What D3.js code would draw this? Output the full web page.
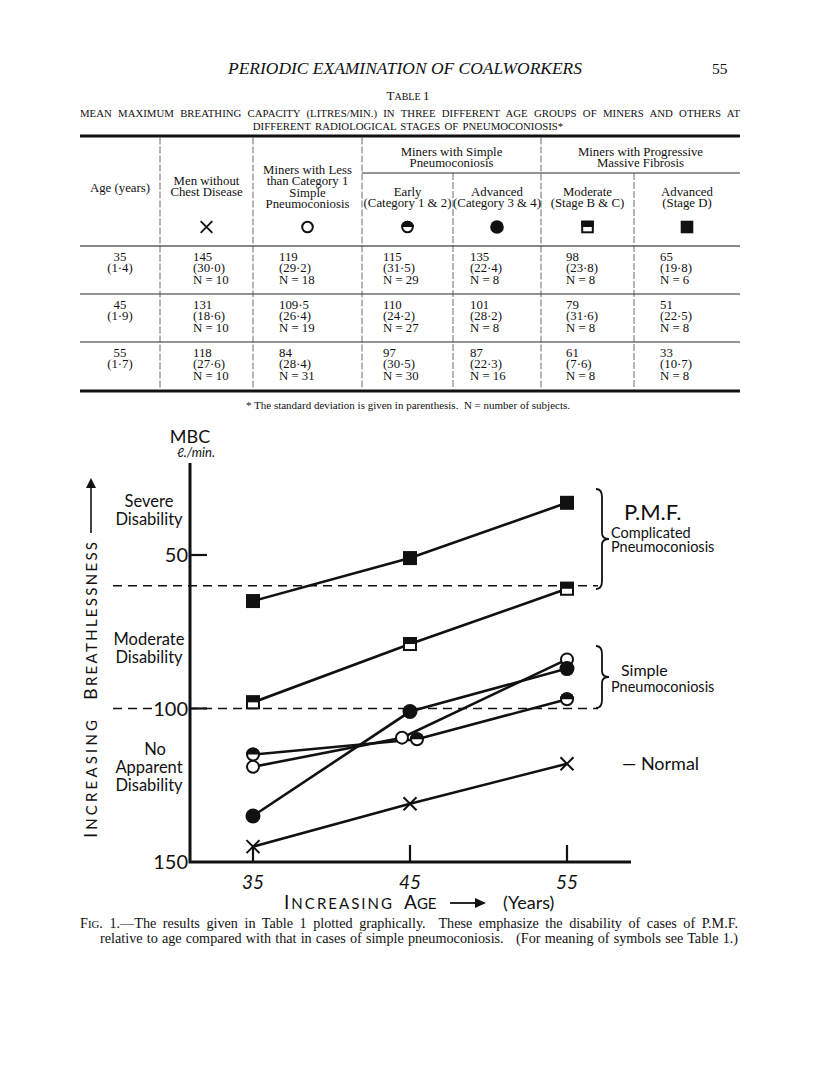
<!DOCTYPE html>
<html><head><meta charset="utf-8">
<script src="https://cdn.jsdelivr.net/npm/d3@7"></script>
<style>
body{margin:0;background:#fff;}
svg{display:block;}
.serif{font-family:"Liberation Serif","Times New Roman",serif;fill:#111;white-space:pre;}
.hand{font-family:"Lato","Open Sans",sans-serif;fill:#111;}
</style></head>
<body><svg id="c" width="816" height="1075"></svg>
<script>
// ---------- DATA ----------
const ages = [35, 45, 55];
const ageSD = [1.4, 1.9, 1.7];
const normal      = [145, 131, 118];
const lessCat1    = [119, 109.5, 84];
const earlySimple = [115, 110, 97];
const advSimple   = [135, 101, 87];
const moderatePMF = [98, 79, 61];
const advancedPMF = [65, 51, 33];
const normalSD      = [30.0, 18.6, 27.6];
const lessCat1SD    = [29.2, 26.4, 28.4];
const earlySimpleSD = [31.5, 24.2, 30.5];
const advSimpleSD   = [22.4, 28.2, 22.3];
const moderatePMFSD = [23.8, 31.6, 7.6];
const advancedPMFSD = [19.8, 22.5, 10.7];
const normalN      = [10, 10, 10];
const lessCat1N    = [18, 19, 31];
const earlySimpleN = [29, 27, 30];
const advSimpleN   = [8, 8, 16];
const moderatePMFN = [8, 8, 8];
const advancedPMFN = [6, 8, 8];
const yTicks = [50, 100, 150];
const boundaries = [60, 100];

const seriesMeans = [normal, lessCat1, earlySimple, advSimple, moderatePMF, advancedPMF];
const seriesSD = [normalSD, lessCat1SD, earlySimpleSD, advSimpleSD, moderatePMFSD, advancedPMFSD];
const seriesN = [normalN, lessCat1N, earlySimpleN, advSimpleN, moderatePMFN, advancedPMFN];
const markerTypes = ["x", "open", "half", "filled", "halfsq", "sq"];

// ---------- STYLE / LAYOUT ----------
const dodge = [[0,0,0],[0,-8,0],[0,7,0],[0,0,0],[0,0,0],[0,0,0]];
const svg = d3.select("#c");
svg.append("rect").attr("width",816).attr("height",1075).attr("fill","#fff");
const fmt = v => (Number.isInteger(v) ? String(v) : v.toFixed(1)).replace(".", "\u00B7");
const fmtSD = v => v.toFixed(1).replace(".", "\u00B7");
function justify(sel, target) {
  const n = sel.node();
  const w = n.getComputedTextLength();
  const spaces = (n.textContent.match(/ /g) || []).length;
  if (spaces) sel.attr("word-spacing", (target - w) / spaces);
}

function marker(g, type, cx, cy, s) {
  const r = 7 * s;
  if (type === "x") {
    const h = 6.5 * s;
    g.append("path").attr("d", `M${cx-h},${cy-h}L${cx+h},${cy+h}M${cx-h},${cy+h}L${cx+h},${cy-h}`)
      .attr("stroke","#111").attr("stroke-width",2*s).attr("fill","none");
  } else if (type === "open") {
    g.append("circle").attr("cx",cx).attr("cy",cy).attr("r",r-1).attr("fill","#fff").attr("stroke","#111").attr("stroke-width",2);
  } else if (type === "half") {
    g.append("circle").attr("cx",cx).attr("cy",cy).attr("r",r-1).attr("fill","#fff").attr("stroke","#111").attr("stroke-width",2);
    g.append("path").attr("d",`M${cx-r},${cy}A${r},${r} 0 0 1 ${cx+r},${cy}Z`).attr("fill","#111");
  } else if (type === "filled") {
    g.append("circle").attr("cx",cx).attr("cy",cy).attr("r",r+0.5).attr("fill","#111");
  } else if (type === "halfsq") {
    g.append("rect").attr("x",cx-r+1).attr("y",cy-r+1).attr("width",2*r-2).attr("height",2*r-2)
      .attr("fill","#fff").attr("stroke","#111").attr("stroke-width",2);
    g.append("rect").attr("x",cx-r).attr("y",cy-r).attr("width",2*r).attr("height",r).attr("fill","#111");
  } else if (type === "sq") {
    g.append("rect").attr("x",cx-r).attr("y",cy-r).attr("width",2*r).attr("height",2*r).attr("fill","#111");
  }
}

// ---------- PAGE HEADER ----------
svg.append("text").attr("class","serif").attr("x",405).attr("y",74).attr("text-anchor","middle")
  .attr("font-size",16.5).attr("font-style","italic").attr("textLength",354).attr("lengthAdjust","spacingAndGlyphs")
  .text("PERIODIC EXAMINATION OF COALWORKERS");
svg.append("text").attr("class","serif").attr("x",712).attr("y",74).attr("font-size",15.5).text("55");
const tt = svg.append("text").attr("class","serif").attr("x",408).attr("y",100).attr("text-anchor","middle");
tt.append("tspan").attr("font-size",13).text("T");
tt.append("tspan").attr("font-size",10).text("ABLE ");
tt.append("tspan").attr("font-size",13).text("1");
const sub1 = svg.append("text").attr("class","serif").attr("x",80).attr("y",117).attr("font-size",10.8)
  .text("MEAN MAXIMUM BREATHING CAPACITY (LITRES/MIN.) IN THREE DIFFERENT AGE GROUPS OF MINERS AND OTHERS AT");
justify(sub1, 660);
svg.append("text").attr("class","serif").attr("x",408).attr("y",130).attr("font-size",10.8).attr("text-anchor","middle")
  .attr("word-spacing",1.5).text("DIFFERENT RADIOLOGICAL STAGES OF PNEUMOCONIOSIS*");

// ---------- TABLE ----------
const colX = [80, 160, 253, 362, 453, 541, 634, 740];
const valX = [193, 279, 383, 470, 566, 660];
const T = svg.append("g");
const hline = (y, x1, x2, w) => T.append("line").attr("x1",x1).attr("x2",x2).attr("y1",y).attr("y2",y).attr("stroke","#111").attr("stroke-width",w);
hline(136, 80, 740, 3);
hline(173, 362, 740, 0.9);
hline(246, 80, 740, 1);
hline(294, 80, 740, 0.9);
hline(342, 80, 740, 0.9);
hline(391, 80, 740, 3);
[1,2,3,4,5,6].forEach(i => {
  const y0 = (i === 4 || i === 6) ? 173 : 137.5;
  T.append("line").attr("x1",colX[i]).attr("x2",colX[i]).attr("y1",y0).attr("y2",389.5)
    .attr("stroke","#444").attr("stroke-width",0.8).attr("stroke-dasharray","7,2");
});
function lines(x, ys, arr, anchor) {
  arr.forEach((t, i) => T.append("text").attr("class","serif").attr("x",x).attr("y",ys + i*11.4)
    .attr("font-size",12.8).attr("text-anchor",anchor || "middle").text(t));
}
const cc = i => (colX[i] + colX[i+1]) / 2;
lines((colX[3]+colX[5])/2, 156, ["Miners with Simple","Pneumoconiosis"]);
lines((colX[5]+colX[7])/2, 156, ["Miners with Progressive","Massive Fibrosis"]);
lines(cc(0), 192, ["Age (years)"]);
lines(cc(1), 185, ["Men without","Chest Disease"]);
lines(cc(2), 174, ["Miners with Less","than Category 1","Simple","Pneumoconiosis"]);
lines(cc(3), 196, ["Early","(Category 1 & 2)"]);
lines(cc(4), 196, ["Advanced","(Category 3 & 4)"]);
lines(cc(5), 196, ["Moderate","(Stage B & C)"]);
lines(cc(6), 196, ["Advanced","(Stage D)"]);
markerTypes.forEach((m, k) => marker(T, m, cc(k+1), 227, 0.9));
ages.forEach((a, r) => {
  const y = 261 + r*48;
  lines(cc(0), y, [String(a), "(" + fmtSD(ageSD[r]) + ")"]);
  seriesMeans.forEach((s, k) => {
    lines(valX[k], y, [fmt(s[r]), "(" + fmtSD(seriesSD[k][r]) + ")", "N = " + seriesN[k][r]], "start");
  });
});
svg.append("text").attr("class","serif").attr("x",408).attr("y",409).attr("text-anchor","middle").attr("font-size",11)
  .text("* The standard deviation is given in parenthesis.  N = number of subjects.");

// ---------- CHART ----------
const x = d3.scaleLinear().domain([35, 55]).range([253, 567]);
const y = d3.scaleLinear().domain([50, 150]).range([555, 862]);
const C = svg.append("g");
const axX0 = 190, axYtop = 463, axXend = 631;
C.selectAll(".bd").data(boundaries).enter().append("line")
  .attr("x1",113).attr("x2",598).attr("y1",d=>y(d)).attr("y2",d=>y(d))
  .attr("stroke","#111").attr("stroke-width",1.6).attr("stroke-dasharray","9,6");
C.append("rect").attr("x",158).attr("y",y(100)-9).attr("width",31).attr("height",18).attr("fill","#fff");
C.append("path").attr("d",`M${axX0},${axYtop}V${y(150)}H${axXend}`).attr("fill","none").attr("stroke","#111").attr("stroke-width",3);
C.selectAll(".yt").data(yTicks.filter(d=>d<150)).enter().append("line")
  .attr("x1",axX0).attr("x2",axX0+17).attr("y1",d=>y(d)).attr("y2",d=>y(d)).attr("stroke","#111").attr("stroke-width",2.2);
C.selectAll(".ytl").data(yTicks).enter().append("text").attr("class","hand")
  .attr("x",188).attr("y",d=>y(d)+7).attr("text-anchor","end").attr("font-size",20).text(d=>d);
C.selectAll(".xt").data(ages).enter().append("line")
  .attr("x1",d=>x(d)).attr("x2",d=>x(d)).attr("y1",y(150)).attr("y2",y(150)-17).attr("stroke","#111").attr("stroke-width",2.2);
C.selectAll(".xtl").data(ages).enter().append("text").attr("class","hand")
  .attr("x",d=>x(d)).attr("y",889).attr("text-anchor","middle").attr("font-size",19).attr("font-style","italic").text(d=>d);
const line = d3.line();
seriesMeans.forEach((s, k) => {
  const pts = s.map((v, i) => [x(ages[i]) + dodge[k][i], y(v)]);
  C.append("path").attr("d", line(pts)).attr("fill","none").attr("stroke","#111").attr("stroke-width",2.6);
});
seriesMeans.forEach((s, k) => {
  s.forEach((v, i) => marker(C, markerTypes[k], x(ages[i]) + dodge[k][i], y(v), 1));
});
C.append("text").attr("class","hand").attr("x",190).attr("y",443).attr("text-anchor","middle").attr("font-size",18).text("MBC");
C.append("text").attr("class","hand").attr("x",196).attr("y",457).attr("text-anchor","middle").attr("font-size",13).attr("font-style","italic").text("\u2113./min.");
function hlabel(xc, yb, arr, fs) {
  arr.forEach((t, i) => C.append("text").attr("class","hand").attr("x",xc).attr("y",yb + i*17.5)
    .attr("text-anchor","middle").attr("font-size",fs || 16.5).text(t));
}
hlabel(149, 507, ["Severe","Disability"]);
hlabel(149, 645, ["Moderate","Disability"]);
hlabel(155, 755, ["No"]);
hlabel(149, 773, ["Apparent","Disability"]);
const vt = C.append("g").attr("transform","translate(97,838) rotate(-90)");
const v1 = vt.append("text").attr("class","hand").attr("x",0).attr("y",0).attr("textLength",118).attr("lengthAdjust","spacing");
v1.append("tspan").attr("font-size",18).text("I");
v1.append("tspan").attr("font-size",15).text("NCREASING");
const v2 = vt.append("text").attr("class","hand").attr("x",138).attr("y",0).attr("textLength",158).attr("lengthAdjust","spacing");
v2.append("tspan").attr("font-size",18).text("B");
v2.append("tspan").attr("font-size",15).text("REATHLESSNESS");
vt.append("line").attr("x1",305).attr("x2",356).attr("y1",-6).attr("y2",-6).attr("stroke","#111").attr("stroke-width",1.6);
vt.append("path").attr("d","M360,-6L350,-11L350,-1Z").attr("fill","#111");
const xt = C.append("text").attr("class","hand").attr("x",284).attr("y",909).attr("textLength",108).attr("lengthAdjust","spacing");
xt.append("tspan").attr("font-size",19).text("I");
xt.append("tspan").attr("font-size",15).text("NCREASING");
const xt2 = C.append("text").attr("class","hand").attr("x",404).attr("y",909);
xt2.append("tspan").attr("font-size",19).text("A");
xt2.append("tspan").attr("font-size",15).text("GE");
C.append("line").attr("x1",450).attr("x2",480).attr("y1",903).attr("y2",903).attr("stroke","#111").attr("stroke-width",1.8);
C.append("path").attr("d","M486,903L475,898L475,908Z").attr("fill","#111");
C.append("text").attr("class","hand").attr("x",503).attr("y",909).attr("font-size",18).text("(Years)");
function brace(xb, y0, y1) {
  const ym = (y0 + y1) / 2, w = 7;
  return `M${xb-4},${y0} Q${xb+2},${y0} ${xb+2},${y0+8} L${xb+2},${ym-6} Q${xb+2},${ym} ${xb+w+2},${ym} Q${xb+2},${ym} ${xb+2},${ym+6} L${xb+2},${y1-8} Q${xb+2},${y1} ${xb-4},${y1}`;
}
C.append("path").attr("d",brace(600,489,589)).attr("fill","none").attr("stroke","#111").attr("stroke-width",1.8);
C.append("path").attr("d",brace(600,646,708)).attr("fill","none").attr("stroke","#111").attr("stroke-width",1.8);
C.append("text").attr("class","hand").attr("x",624).attr("y",520).attr("font-size",22).text("P.M.F.");
C.append("text").attr("class","hand").attr("x",611).attr("y",538).attr("font-size",14.5).text("Complicated");
C.append("text").attr("class","hand").attr("x",611).attr("y",552).attr("font-size",14.5).text("Pneumoconiosis");
C.append("text").attr("class","hand").attr("x",621).attr("y",676).attr("font-size",16).text("Simple");
C.append("text").attr("class","hand").attr("x",611).attr("y",692).attr("font-size",14.5).text("Pneumoconiosis");
C.append("text").attr("class","hand").attr("x",622).attr("y",770).attr("font-size",18).text("\u2014 Normal");

// ---------- CAPTION ----------
const cap1 = svg.append("text").attr("class","serif").attr("x",80).attr("y",928).attr("font-size",14.2);
cap1.append("tspan").text("F");
cap1.append("tspan").attr("font-size",10.8).text("IG");
cap1.append("tspan").text(". 1.\u2014The results given in Table 1 plotted graphically.  These emphasize the disability of cases of P.M.F.");
justify(cap1, 658);
const cap2 = svg.append("text").attr("class","serif").attr("x",100).attr("y",943).attr("font-size",14.2)
  .text("relative to age compared with that in cases of simple pneumoconiosis.   (For meaning of symbols see Table 1.)");
justify(cap2, 638);
</script></body></html>
